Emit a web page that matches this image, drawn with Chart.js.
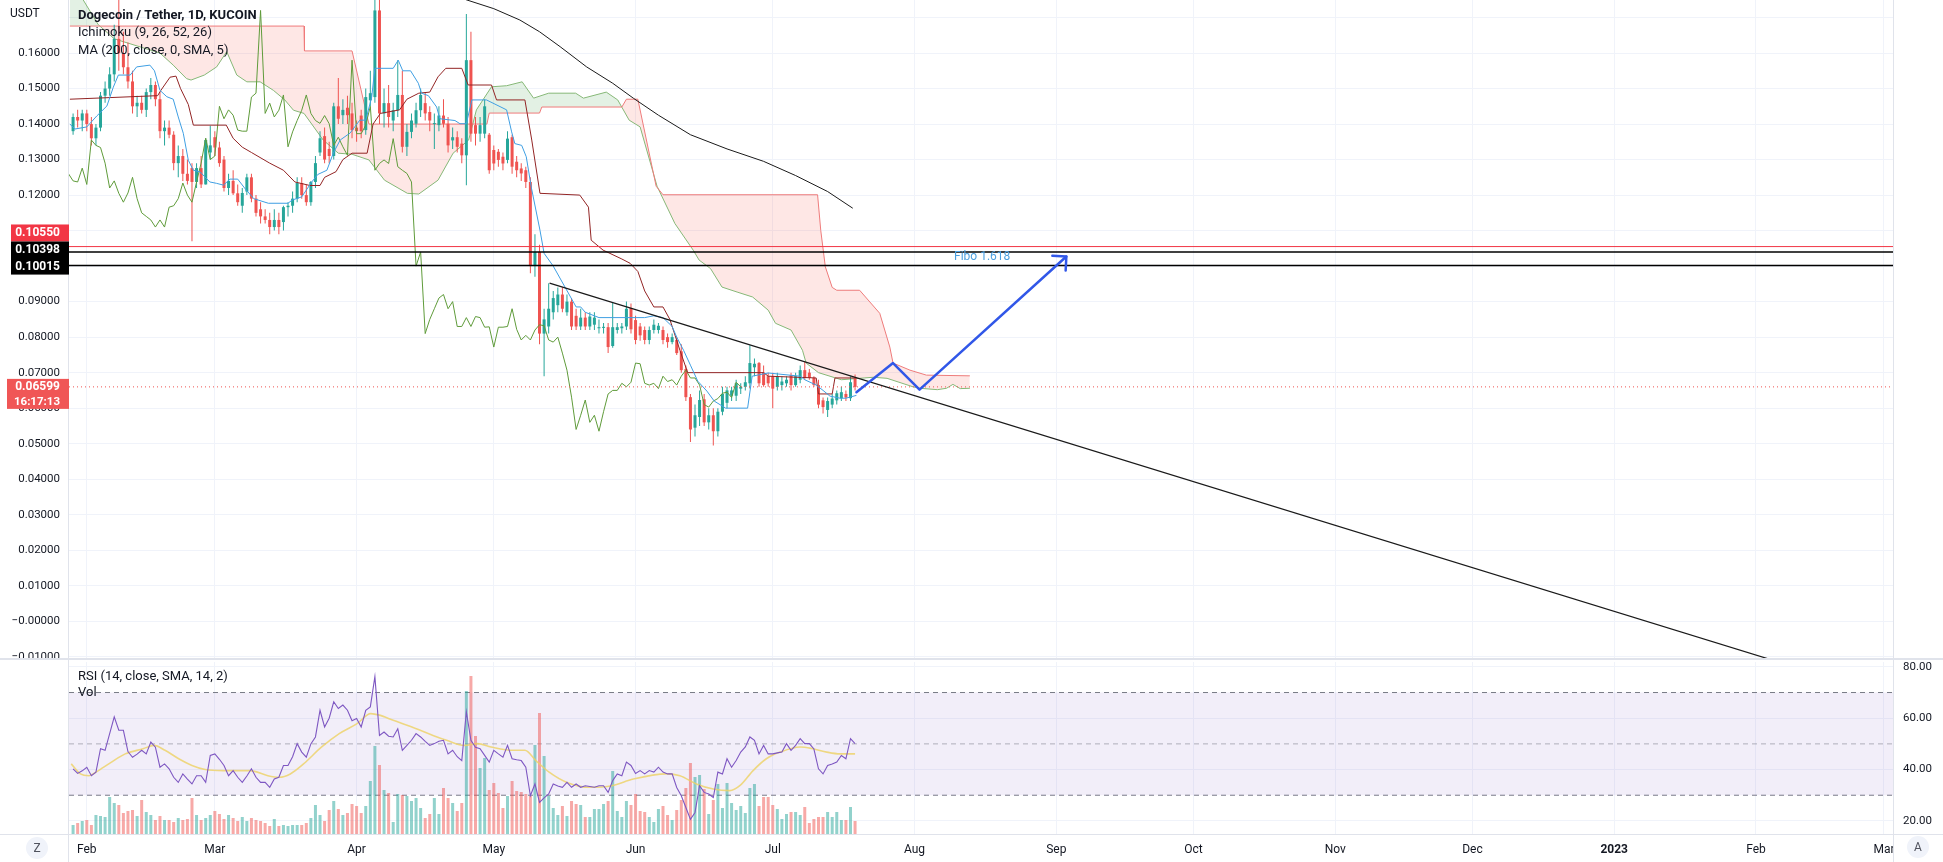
<!DOCTYPE html>
<html><head><meta charset="utf-8">
<script src="https://cdn.jsdelivr.net/npm/chart.js@4.4.0/dist/chart.umd.min.js"></script>
<style>
html,body{margin:0;padding:0;background:#fff;overflow:hidden;}
#wrap{position:relative;width:1943px;height:862px;background:#fff;}
#main{position:absolute;left:0;top:0;width:1943px;height:658px;}
#sub{position:absolute;left:0;top:658px;width:1943px;height:204px;}
</style></head><body>
<div id="wrap"><canvas id="main" width="1943" height="658"></canvas><canvas id="sub" width="1943" height="204"></canvas></div>
<script>
// ---------- axes / ticks ----------
const X_MIN = -3.892, X_MAX = 394.97;          // days since 2022-02-01
const Y_MIN = -0.01036, Y_MAX = 0.17494;
const RSI_MIN = 14.90, RSI_MAX = 81.89;
const monthDays = [0,28,59,89,120,150,181,212,242,273,303,334,365,393];
const monthLabels = ['Feb','Mar','Apr','May','Jun','Jul','Aug','Sep','Oct','Nov','Dec','2023','Feb','Mar'];
const priceTicks = [-0.01,0,0.01,0.02,0.03,0.04,0.05,0.06,0.07,0.08,0.09,0.10,0.11,0.12,0.13,0.14,0.15,0.16,0.17];
const rsiTicks = [20,40,60,80];

// ---------- daily candles (first candle = day -3, 2022-01-29) ----------
const FIRST_DAY = -3;
const openP = [
0.138,0.142,0.141,0.143,0.140,0.136,0.139,0.148,0.150,0.154,
0.164,0.160,0.156,0.152,0.145,0.146,0.144,0.149,0.151,0.147,
0.138,0.139,0.137,0.129,0.131,0.126,0.1276,0.1237,0.1276,0.123,
0.132,0.1363,0.1334,0.130,0.122,0.124,0.1205,0.117,0.121,0.125,
0.119,0.116,0.114,0.113,0.111,0.113,0.1124,0.1166,0.117,0.119,
0.1234,0.120,0.118,0.1237,0.132,0.1366,0.133,0.131,0.145,0.1425,
0.1446,0.143,0.139,0.1424,0.1383,0.1467,0.1476,0.172,0.143,0.1459,
0.141,0.1439,0.1482,0.1336,0.1378,0.1401,0.1439,0.1459,0.1434,0.140,
0.1397,0.1424,0.1401,0.1354,0.1363,0.1345,0.1312,0.158,0.1397,0.1373,
0.1373,0.137,0.1327,0.1322,0.1308,0.1299,0.1363,0.1294,0.1275,0.127,
0.1237,0.100,0.104,0.081,0.083,0.087,0.089,0.092,0.087,0.090,
0.086,0.083,0.0855,0.083,0.0835,0.0825,0.0826,0.0828,0.0775,0.0820,
0.0825,0.0830,0.0882,0.0848,0.0830,0.0820,0.0792,0.0820,0.0820,0.0820,
0.0800,0.0786,0.0792,0.0760,0.0710,0.0631,0.0545,0.0575,0.0625,0.0560,
0.0580,0.0535,0.0590,0.0615,0.0635,0.0635,0.0655,0.0660,0.0670,0.0715,
0.0727,0.0700,0.0690,0.0690,0.0660,0.0665,0.0670,0.0693,0.0665,0.0680,
0.0707,0.0700,0.0685,0.0665,0.0622,0.0595,0.0610,0.0622,0.0628,0.0640,
0.0628,0.0684];
const highP = [
0.143,0.144,0.144,0.144,0.142,0.140,0.149,0.152,0.156,0.168,
0.176,0.166,0.163,0.155,0.148,0.148,0.150,0.153,0.152,0.149,
0.141,0.141,0.138,0.134,0.133,0.130,0.129,0.129,0.131,0.136,
0.1395,0.138,0.135,0.131,0.126,0.127,0.123,0.122,0.126,0.126,
0.120,0.118,0.116,0.115,0.116,0.115,0.117,0.118,0.121,0.125,
0.125,0.123,0.124,0.131,0.138,0.139,0.135,0.146,0.153,0.147,
0.148,0.146,0.141,0.144,0.150,0.155,0.185,0.185,0.150,0.151,
0.146,0.158,0.155,0.140,0.143,0.146,0.150,0.149,0.145,0.143,
0.145,0.147,0.142,0.139,0.138,0.136,0.171,0.166,0.142,0.142,
0.147,0.1375,0.134,0.133,0.132,0.138,0.137,0.131,0.129,0.128,
0.125,0.109,0.106,0.088,0.0952,0.093,0.094,0.094,0.092,0.091,
0.088,0.088,0.087,0.087,0.087,0.085,0.084,0.084,0.0896,0.084,
0.084,0.090,0.0895,0.086,0.084,0.083,0.083,0.085,0.084,0.083,
0.081,0.081,0.080,0.078,0.072,0.064,0.061,0.065,0.064,0.060,
0.060,0.060,0.066,0.066,0.066,0.068,0.067,0.069,0.0777,0.074,
0.073,0.072,0.070,0.070,0.070,0.069,0.069,0.070,0.070,0.072,
0.073,0.071,0.069,0.068,0.063,0.063,0.064,0.065,0.066,0.065,
0.069,0.0695];
const lowP = [
0.137,0.139,0.138,0.138,0.134,0.134,0.138,0.146,0.148,0.152,
0.155,0.154,0.150,0.143,0.142,0.143,0.142,0.147,0.145,0.136,
0.134,0.136,0.127,0.125,0.124,0.123,0.107,0.122,0.122,0.123,
0.130,0.131,0.128,0.121,0.120,0.120,0.117,0.115,0.120,0.118,
0.114,0.112,0.112,0.109,0.110,0.109,0.110,0.114,0.115,0.118,
0.119,0.117,0.117,0.122,0.131,0.129,0.129,0.130,0.140,0.140,
0.140,0.136,0.135,0.136,0.137,0.145,0.146,0.140,0.139,0.139,
0.138,0.142,0.132,0.131,0.136,0.139,0.142,0.141,0.138,0.133,
0.138,0.139,0.132,0.133,0.132,0.129,0.1228,0.135,0.134,0.135,
0.136,0.126,0.127,0.128,0.127,0.129,0.126,0.125,0.124,0.122,
0.098,0.097,0.078,0.069,0.081,0.085,0.087,0.087,0.086,0.082,
0.082,0.082,0.082,0.082,0.082,0.081,0.081,0.0755,0.077,0.081,
0.081,0.082,0.081,0.078,0.079,0.078,0.078,0.081,0.081,0.078,
0.077,0.078,0.075,0.070,0.062,0.0505,0.052,0.055,0.055,0.054,
0.0495,0.052,0.058,0.060,0.062,0.062,0.064,0.065,0.0655,0.069,
0.066,0.066,0.066,0.060,0.065,0.065,0.066,0.065,0.066,0.067,
0.068,0.068,0.066,0.060,0.0585,0.0575,0.060,0.061,0.062,0.062,
0.062,0.065];
const closeP = [
0.142,0.141,0.143,0.140,0.136,0.139,0.148,0.150,0.154,0.164,
0.160,0.156,0.152,0.145,0.146,0.144,0.149,0.151,0.147,0.138,
0.139,0.137,0.129,0.131,0.126,0.124,0.1237,0.1276,0.123,0.1355,
0.134,0.1334,0.129,0.122,0.124,0.1205,0.118,0.1206,0.125,0.119,
0.115,0.114,0.113,0.111,0.113,0.111,0.1166,0.117,0.119,0.1234,
0.120,0.118,0.1237,0.129,0.136,0.130,0.131,0.145,0.1415,0.144,
0.1425,0.1383,0.138,0.138,0.1476,0.1487,0.172,0.143,0.1459,0.142,
0.1439,0.1482,0.1336,0.1378,0.141,0.1439,0.1482,0.143,0.141,0.1402,
0.1424,0.1401,0.134,0.1363,0.1336,0.1312,0.158,0.1373,0.1373,0.1397,
0.145,0.127,0.1289,0.1299,0.1289,0.1359,0.128,0.127,0.1261,0.1237,
0.100,0.104,0.081,0.085,0.088,0.091,0.092,0.088,0.090,0.083,
0.083,0.0855,0.083,0.0858,0.0855,0.0828,0.0829,0.0772,0.0828,0.0828,
0.0830,0.0880,0.0822,0.0792,0.0805,0.0792,0.0820,0.0835,0.0832,0.0792,
0.0786,0.0800,0.0755,0.0707,0.0631,0.0540,0.0580,0.0623,0.0560,0.0580,
0.0535,0.0590,0.0640,0.0650,0.0650,0.0670,0.0660,0.0673,0.0727,0.0725,
0.0670,0.0665,0.0670,0.0655,0.0690,0.0675,0.0680,0.0665,0.0690,0.0707,
0.0685,0.0685,0.0665,0.0610,0.0603,0.0620,0.0627,0.0642,0.0645,0.0630,
0.0673,0.06599];
const LAG_SHIFT = 25;   // Ichimoku lagging span displacement (days back)

// ---------- Ichimoku lines (day, value) ----------
const tenkanDays = [-3.7,-2.6,0,2.2,4.4,5.8,6.9,9.5,10.9,13.8,14.8,16,17.5,18.9,20,21.1,22.2,23.3,24.8,26.9,28.4,29.9,31.3,33,34.5,36.5,39.7,44,44.9,47,49.2,50.5,52.5,53.9,55.4,57.6,59.7,61,62.3,63,67,68.1,69.1,70.8,72.5,73.2,74.7,76.5,77.2,80.5,81.6,83,84.2,87.4,91.8,92.9,93.6,95.1,96.1,97.2,99.1,100,102,107,108,109,112,122,124,126,128,129,130.5,132,133.6,135.6,137.2,139.7,144.5,145.5,149,156,157,159.5,161,162.5,164.7,166,168.3];
const tenkanVals = [0.140,0.1386,0.1392,0.1423,0.1451,0.1504,0.1538,0.1538,0.1561,0.1566,0.155,0.1495,0.1477,0.147,0.142,0.1374,0.1298,0.127,0.1265,0.1237,0.1233,0.1228,0.1245,0.1245,0.122,0.119,0.1177,0.1177,0.1186,0.1195,0.1237,0.1258,0.127,0.1318,0.1355,0.1375,0.1411,0.1411,0.1476,0.1557,0.1557,0.158,0.155,0.155,0.1515,0.1487,0.148,0.1448,0.1415,0.141,0.1401,0.1401,0.1468,0.1468,0.144,0.1378,0.1345,0.134,0.1308,0.1222,0.1101,0.1036,0.100,0.0885,0.0885,0.0870,0.0855,0.0855,0.0860,0.0855,0.083,0.080,0.0763,0.0721,0.0676,0.0648,0.0620,0.0600,0.0600,0.0690,0.0699,0.0690,0.0680,0.0665,0.0650,0.0634,0.0628,0.0628,0.0636];
const kijunDays = [-3.7,15.5,16.2,18.2,19.5,20.5,22.2,23.3,30.5,32,34,36,40,43,45.5,48.8,51,52,54.5,56,58,61.3,62.6,64.2,68.4,70,72.6,75,76.8,78.5,82,83.4,88.5,89.6,95.8,97.3,99.1,107.8,109.7,110.3,112.9,117,118.8,120.5,122,124,126,127.5,129.7,131.4,148,149,159.5,160,163,163.6,168.3];
const kijunVals = [0.147,0.148,0.1495,0.1532,0.1535,0.150,0.1455,0.1397,0.1397,0.136,0.1335,0.132,0.129,0.127,0.1237,0.1227,0.1227,0.125,0.1266,0.130,0.1318,0.1318,0.140,0.143,0.144,0.147,0.1487,0.149,0.1533,0.1557,0.1557,0.151,0.151,0.1468,0.1468,0.1355,0.1205,0.120,0.1166,0.1073,0.1045,0.102,0.1008,0.0985,0.093,0.0885,0.0885,0.085,0.0763,0.0700,0.0700,0.0690,0.0685,0.0640,0.0640,0.0685,0.0685];
const spanADays = [-3.7,-0.8,2.5,6,11,16,18.9,21.8,22.8,25.7,28.4,30.6,32.8,35,37.9,40.8,43.3,45.2,47.5,51.7,55,58,61.7,65.1,70.1,72.6,76.8,80.1,83.5,85.2,88.5,91.8,95.2,97.7,101,106.9,108.6,113.6,116.1,118.6,121,124.7,128.6,132.6,133.9,136.4,138.9,142.2,145.6,149,150.6,154,156.5,157.3,160,165,170,172,175,180.7,182.2,186,188,189.4,191,193.1];
const spanAVals = [0.186,0.175,0.168,0.164,0.162,0.160,0.1566,0.1528,0.1524,0.1538,0.1561,0.1604,0.1538,0.1519,0.1519,0.1495,0.1468,0.1439,0.143,0.1355,0.1318,0.1315,0.1299,0.1242,0.1205,0.1203,0.1242,0.1318,0.1355,0.144,0.1505,0.1508,0.1519,0.1473,0.1487,0.1487,0.1473,0.149,0.1468,0.1411,0.1392,0.1225,0.112,0.1045,0.1017,0.0993,0.0941,0.0927,0.0913,0.0876,0.0839,0.082,0.0763,0.0727,0.070,0.068,0.0685,0.0687,0.0684,0.066,0.0656,0.0652,0.0656,0.0667,0.0655,0.0656];
const spanBDays = [-3.7,47.5,47.6,58,61.7,87.5,88,99,99.5,117,118,120.5,124.5,126,159.8,160.5,161.5,163,164,169,173.4,175.6,176.3,180,183.6,193.1];
const spanBVals = [0.1676,0.1676,0.1606,0.1606,0.140,0.140,0.1431,0.1431,0.1448,0.1448,0.1470,0.1470,0.1225,0.1201,0.1201,0.1100,0.0998,0.0940,0.0932,0.0932,0.0867,0.0772,0.0727,0.0707,0.0693,0.0691];
// MA 200
const maDays = [78,83,89,94.7,99,103.5,109.3,115,119.5,125,132,140,148,155,162,167.5];
const maVals = [0.180,0.175,0.1725,0.1693,0.166,0.1618,0.1561,0.1515,0.1473,0.1425,0.137,0.133,0.1295,0.1255,0.121,0.1163];

// ---------- drawings ----------
const hLevels = [0.10550, 0.10398, 0.10015];
const lastPrice = 0.06599;
const trendDays = [101.2, 367.7];
const trendVals = [0.0952, -0.0106];
const projDays = [168.3, 176.3, 182.1, 214.2];
const projVals = [0.0645, 0.0727, 0.0652, 0.1027];
const fiboDay = 195.8, fiboVal = 0.10254;

// ---------- RSI / Volume (daily, first = day -3) ----------
const rsiVals = [
40.3,38.5,39.5,40.9,37.6,39.0,48.1,47.5,54.0,60.5,
55.3,55.3,47.0,44.8,46.0,47.5,46.1,50.7,48.7,40.9,
42.2,40.3,37.0,35.0,38.3,36.3,34.4,37.6,37.6,35.0,
45.5,46.1,44.0,41.6,37.6,39.6,37.0,35.0,37.5,40.3,
37.0,35.0,35.0,33.1,36.3,37.0,41.6,41.6,45.0,50.1,
46.8,44.8,50.0,52.7,63.1,56.6,60.0,66.4,63.8,65.1,
63.1,59.0,59.9,56.6,63.1,64.4,76.2,53.3,54.6,53.0,
52.7,55.9,47.5,49.4,51.4,54.0,52.7,51.0,49.4,50.1,
51.0,51.4,46.1,47.5,45.0,43.5,62.5,51.4,48.7,48.1,
45.5,42.9,47.5,46.1,44.8,49.4,44.2,43.8,43.5,40.9,
29.8,34.4,27.2,29.0,30.5,34.4,33.6,33.1,35.0,33.1,
34.4,33.1,33.7,33.4,33.1,33.7,33.7,31.1,35.7,38.3,
37.6,42.9,41.6,38.5,39.6,38.3,39.6,39.0,40.9,39.0,
38.3,38.3,33.0,29.8,25.2,20.6,23.3,33.7,31.1,30.5,
29.1,39.0,38.3,44.2,40.9,43.5,46.8,48.8,52.7,51.4,
46.1,49.4,46.1,46.1,46.5,46.8,50.1,47.5,49.4,52.0,
50.1,50.1,48.0,40.3,38.3,41.6,42.2,42.9,45.5,44.2,
52.0,50.1];
const rsiMaDays = [-3.4,-1.4,0.5,2,5.4,8.4,12.3,14.7,17.1,20.1,23,25.9,29.8,35.7,39.6,42.1,44.5,47.4,51.3,55.2,59.1,62.1,64,67,71.9,75.7,78.7,82.6,85.5,88.4,93.3,95.8,98.2,101.1,105,109.9,114.8,119.5,126.8,129.7,133.3,137,140.6,142.8,145.7,148.6,151.6,156,158.8,161.8,164.7,168];
const rsiMaVals = [42.2,38.3,37.6,39,42.9,46.1,48.1,49.4,47.5,44.2,41.6,40,39.6,39.6,37.6,37,38.3,42.2,48.7,54,57.9,61.8,61.2,59.2,56,53.3,51.4,49.4,50.1,48.8,47.5,47.5,43.5,39,35,33.1,33.7,36.3,38.3,37.6,34.4,32.4,31.8,33.7,39.6,44.2,46.8,48.8,48.1,46.8,46.1,46.1];
const volM = [
9,11,13,14,9,19,18,17,37,31,
29,21,23,24,18,34,22,19,14,18,
14,14,12,16,14,15,36,19,14,16,
19,23,20,15,19,16,13,17,13,16,
14,13,11,8,15,8,9,8,9,9,
9,11,16,29,19,13,24,33,25,19,
21,30,28,21,28,53,88,69,44,41,
12,40,39,38,33,36,26,16,20,36,
20,46,36,31,23,31,143,158,98,66,
76,44,51,41,26,38,53,43,42,40,
38,89,121,78,38,26,19,28,18,33,
30,29,17,17,25,25,30,33,63,23,
17,33,29,40,23,22,17,12,25,28,
19,14,24,34,46,71,57,59,45,20,
34,50,26,51,31,24,28,21,46,50,
28,37,37,29,25,15,20,22,22,19,
27,11,15,17,17,22,17,22,14,14,
27,13];
const VOL_MAX = 172;

// ---------- styling ----------
const UP = '#26a69a', DN = '#ef5350';
const GRID = '#f0f3fa', SEP = '#e0e3eb', TXT = '#131722';
const FONT = 'Roboto, "Noto Sans", sans-serif';
Chart.defaults.font.family = FONT;
Chart.defaults.color = TXT;
Chart.defaults.animation = false;

const pts = (days, vals) => days.map((d, i) => ({x: d, y: vals[i]}));
const dayOf = i => FIRST_DAY + i;
const isUp = i => closeP[i] >= openP[i];
const line = (label, data, color, width, order, extra) => Object.assign({
  type: 'line', label, data, borderColor: color, borderWidth: width, pointRadius: 0,
  fill: false, tension: 0, order }, extra || {});
const fmtPrice = v => {
  if (v > 0.165) return '';
  if (Math.abs(v) < 1e-9) return '\u22120.00000';
  return v < 0 ? '\u2212' + Math.abs(v).toFixed(5) : v.toFixed(5);
};
const monthTicks = s => { s.ticks = monthDays.map(v => ({value: v})); };

// ---------- main chart ----------
const mainOverlay = {
  id: 'mainOverlay',
  afterDatasetsDraw(chart) {
    const {ctx, scales: {x, y}} = chart;
    const n = projDays.length;
    const x1 = x.getPixelForValue(projDays[n - 2]), y1 = y.getPixelForValue(projVals[n - 2]);
    const x2 = x.getPixelForValue(projDays[n - 1]), y2 = y.getPixelForValue(projVals[n - 1]);
    const ang = Math.atan2(y2 - y1, x2 - x1);
    ctx.save();
    ctx.strokeStyle = '#3157e8'; ctx.lineWidth = 2.5; ctx.lineCap = 'round';
    ctx.beginPath();
    [-1, 1].forEach(s => { const a = ang + Math.PI + s * Math.PI / 4;
      ctx.moveTo(x2, y2); ctx.lineTo(x2 + 14 * Math.cos(a), y2 + 14 * Math.sin(a)); });
    ctx.stroke();
    ctx.fillStyle = '#4a9fe0'; ctx.font = '12px ' + FONT;
    ctx.textAlign = 'center'; ctx.textBaseline = 'middle';
    ctx.fillText('Fibo 1.618', x.getPixelForValue(fiboDay), y.getPixelForValue(fiboVal));
    ctx.restore();
  },
  afterDraw(chart) {
    const {ctx, chartArea: a, scales: {y}} = chart;
    ctx.save();
    ctx.fillStyle = SEP;
    ctx.fillRect(a.left - 1, 0, 1, chart.height);
    ctx.fillRect(a.right, 0, 1, chart.height);
    // price tags
    ctx.textAlign = 'right'; ctx.textBaseline = 'middle';
    ctx.font = 'bold 12px ' + FONT;
    const yb1 = y.getPixelForValue(hLevels[1]), yb2 = y.getPixelForValue(hLevels[2]);
    const blackTop = yb1 - 10.5, blackBot = yb2 + 9;
    ctx.fillStyle = '#f23645'; ctx.fillRect(11, blackTop - 17, 58, 17);
    ctx.fillStyle = '#000'; ctx.fillRect(11, blackTop, 58, blackBot - blackTop);
    ctx.fillStyle = '#fff';
    ctx.fillText(hLevels[0].toFixed(5), 60, blackTop - 8.5);
    ctx.fillText(hLevels[1].toFixed(5), 60, yb1 - 1.5);
    ctx.fillText(hLevels[2].toFixed(5), 60, yb2 + 1);
    const yl = y.getPixelForValue(lastPrice);
    ctx.fillStyle = '#f05656'; ctx.fillRect(7, yl - 8, 62, 30);
    ctx.fillStyle = '#fff';
    ctx.fillText(lastPrice.toFixed(5), 60, yl + 0.5);
    ctx.font = 'bold 11.5px ' + FONT;
    ctx.fillText('16:17:13', 60, yl + 15);
    // currency + legend
    ctx.textAlign = 'left'; ctx.fillStyle = TXT;
    ctx.font = '12px ' + FONT; ctx.fillText('USDT', 10, 14);
    ctx.font = 'bold 13px ' + FONT; ctx.fillText('Dogecoin / Tether, 1D, KUCOIN', 78, 16);
    ctx.font = '13px ' + FONT;
    ctx.fillText('Ichimoku (9, 26, 52, 26)', 78, 33);
    ctx.fillText('MA (200, close, 0, SMA, 5)', 78, 51);
    ctx.restore();
  }
};

const spanBIdx = 0;
const mainDatasets = [
  line('Leading Span B', pts(spanBDays, spanBVals), '#ef7b7b', 1, 20),
  line('Leading Span A', pts(spanADays, spanAVals), '#86b877', 1, 21,
       {fill: {target: spanBIdx, above: 'rgba(67,160,71,0.15)', below: 'rgba(244,67,54,0.13)'}}),
  { type: 'bar', label: 'wick', data: closeP.map((c, i) => ({x: dayOf(i), y: [lowP[i], highP[i]]})),
    backgroundColor: c => isUp(c.dataIndex) ? UP : DN, grouped: false, maxBarThickness: 1, borderWidth: 0, order: 12 },
  { type: 'bar', label: 'body', data: closeP.map((c, i) => ({x: dayOf(i), y: [openP[i], c]})),
    backgroundColor: c => isUp(c.dataIndex) ? UP : DN, grouped: false, maxBarThickness: 3, minBarLength: 1, borderWidth: 0, order: 11 },
  line('Lagging Span', closeP.map((c, i) => ({x: dayOf(i) - LAG_SHIFT, y: c})), '#5f9b3a', 1, 8),
  line('Base Line', pts(kijunDays, kijunVals), '#922424', 1, 7),
  line('Conversion Line', pts(tenkanDays, tenkanVals), '#3f9fe3', 1, 6),
  line('MA 200', pts(maDays, maVals), '#1a1a1a', 1, 5),
  line('lvl1', [{x: X_MIN, y: hLevels[0]}, {x: X_MAX, y: hLevels[0]}], '#f23645', 1, 4),
  line('lvl2', [{x: X_MIN, y: hLevels[1]}, {x: X_MAX, y: hLevels[1]}], '#000', 1.5, 4),
  line('lvl3', [{x: X_MIN, y: hLevels[2]}, {x: X_MAX, y: hLevels[2]}], '#000', 1.5, 4),
  line('last', [{x: X_MIN, y: lastPrice}, {x: X_MAX, y: lastPrice}], '#ef5350', 1, 4, {borderDash: [1, 3]}),
  line('trend', pts(trendDays, trendVals), '#1a1a1a', 1.2, 3),
  line('projection', pts(projDays, projVals), '#3157e8', 2.5, 1, {borderCapStyle: 'round', borderJoinStyle: 'round'})
];

new Chart(document.getElementById('main'), {
  type: 'bar',
  data: {datasets: mainDatasets},
  options: {
    responsive: false, maintainAspectRatio: false, animation: false, events: [],
    layout: {padding: {left: 0, right: 50, top: 0, bottom: 0}, autoPadding: false},
    plugins: {legend: {display: false}, tooltip: {enabled: false}},
    scales: {
      x: { type: 'linear', min: X_MIN, max: X_MAX, offset: false,
        grid: {color: GRID, drawTicks: false, offset: false}, border: {display: false},
        ticks: {display: false}, afterBuildTicks: monthTicks,
        afterFit: s => { s.height = 0; s.paddingLeft = 0; s.paddingRight = 0; } },
      y: { type: 'linear', position: 'left', min: Y_MIN, max: Y_MAX,
        grid: {color: GRID, drawTicks: false}, border: {display: false},
        ticks: {padding: 9, color: TXT, font: {size: 11.5}, autoSkip: false, callback: fmtPrice},
        afterBuildTicks: s => { s.ticks = priceTicks.map(v => ({value: v})); },
        afterFit: s => { s.width = 69; s.paddingTop = 0; s.paddingBottom = 0; } }
    }
  },
  plugins: [mainOverlay]
});

// ---------- RSI + volume pane ----------
const subOverlay = {
  id: 'subOverlay',
  afterDraw(chart) {
    const {ctx, chartArea: a} = chart;
    ctx.save();
    ctx.fillStyle = SEP;
    ctx.fillRect(0, 0, chart.width, 2);
    ctx.fillRect(0, a.bottom, chart.width, 1);
    ctx.fillRect(a.left - 1, 0, 1, chart.height);
    ctx.fillStyle = '#fff';
    ctx.fillRect(a.right, a.bottom + 1, chart.width - a.right, chart.height - a.bottom - 1);
    ctx.fillStyle = SEP;
    ctx.fillRect(a.right, 0, 1, chart.height);
    ctx.fillStyle = TXT; ctx.font = '13px ' + FONT;
    ctx.textAlign = 'left'; ctx.textBaseline = 'middle';
    ctx.fillText('RSI (14, close, SMA, 14, 2)', 78, 19);
    ctx.fillText('Vol', 78, 35);
    const btn = (cx, cy, t) => {
      ctx.fillStyle = '#f0f3fa'; ctx.beginPath(); ctx.arc(cx, cy, 11, 0, Math.PI * 2); ctx.fill();
      ctx.fillStyle = '#50535e'; ctx.font = '12px ' + FONT; ctx.textAlign = 'center';
      ctx.fillText(t, cx, cy + 0.5);
    };
    btn(37, 190, 'Z');
    btn(1918, 189, 'A');
    ctx.restore();
  }
};

const band = 'rgba(126,87,194,0.10)';
const subDatasets = [
  line('70', [{x: X_MIN, y: 70}, {x: X_MAX, y: 70}], '#787b86', 1, 10,
       {yAxisID: 'yr', borderDash: [5, 4], fill: {target: 2, above: band, below: band}}),
  line('50', [{x: X_MIN, y: 50}, {x: X_MAX, y: 50}], 'rgba(120,123,134,0.55)', 1, 9, {yAxisID: 'yr', borderDash: [5, 4]}),
  line('30', [{x: X_MIN, y: 30}, {x: X_MAX, y: 30}], '#787b86', 1, 10, {yAxisID: 'yr', borderDash: [5, 4]}),
  { type: 'bar', label: 'Vol', yAxisID: 'yv', data: volM.map((v, i) => ({x: dayOf(i), y: v})),
    backgroundColor: c => isUp(c.dataIndex) ? 'rgba(38,166,154,0.5)' : 'rgba(239,83,80,0.5)',
    grouped: false, maxBarThickness: 3, borderWidth: 0, order: 5 },
  line('RSI MA', pts(rsiMaDays, rsiMaVals), 'rgba(238,210,100,0.8)', 1.6, 2, {yAxisID: 'yr', cubicInterpolationMode: 'monotone'}),
  line('RSI', rsiVals.map((v, i) => ({x: dayOf(i), y: v})), '#7e57c2', 1.1, 1, {yAxisID: 'yr'})
];

new Chart(document.getElementById('sub'), {
  type: 'bar',
  data: {datasets: subDatasets},
  options: {
    responsive: false, maintainAspectRatio: false, animation: false, events: [],
    layout: {padding: {left: 69, right: 0, top: 4, bottom: 0}, autoPadding: false},
    plugins: {legend: {display: false}, tooltip: {enabled: false}},
    scales: {
      x: { type: 'linear', position: 'bottom', min: X_MIN, max: X_MAX, offset: false,
        grid: {color: GRID, drawTicks: false, offset: false}, border: {display: false},
        ticks: { padding: 9, autoSkip: false, maxRotation: 0, color: TXT,
          font: c => ({size: 12, weight: (c.tick && c.tick.value === 334) ? 'bold' : 'normal'}),
          callback: v => { const k = monthDays.indexOf(v); return k >= 0 ? monthLabels[k] : ''; } },
        afterBuildTicks: monthTicks,
        afterFit: s => { s.height = 28; s.paddingLeft = 0; s.paddingRight = 0; } },
      yr: { type: 'linear', position: 'right', min: RSI_MIN, max: RSI_MAX,
        grid: {color: GRID, drawTicks: false}, border: {display: false},
        ticks: {padding: 10, color: TXT, font: {size: 11.5}, callback: v => v.toFixed(2)},
        afterBuildTicks: s => { s.ticks = rsiTicks.map(v => ({value: v})); },
        afterFit: s => { s.width = 50; s.paddingTop = 0; s.paddingBottom = 0; } },
      yv: { type: 'linear', display: false, min: 0, max: VOL_MAX }
    }
  },
  plugins: [subOverlay]
});
</script>
</body></html>
